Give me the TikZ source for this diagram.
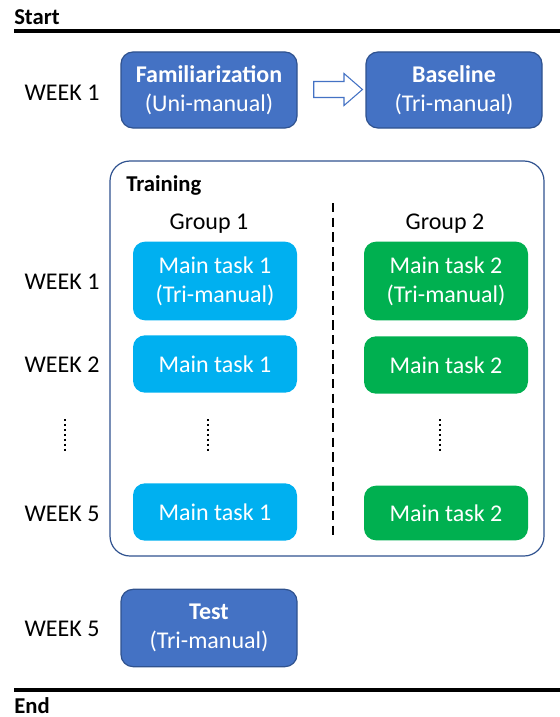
\documentclass[tikz,border=0pt]{standalone}
\usepackage{fontspec}
\setmainfont{Carlito}
\usetikzlibrary{shapes.arrows}
\definecolor{tblue}{HTML}{4472C4}
\definecolor{tborder}{HTML}{2F528F}
\definecolor{tcyan}{HTML}{00B0F0}
\definecolor{tgreen}{HTML}{00B050}
\begin{document}
\begin{tikzpicture}[x=0.75pt,y=-0.75pt,
  every node/.style={font=\fontsize{18}{21.5}\selectfont, inner sep=0pt},
  bluebox/.style={draw=tborder, line width=0.9pt, fill=tblue, text=white, rounded corners=9pt, minimum width=132pt, minimum height=57pt, align=center},
  cyanbox/.style={fill=tcyan, text=white, rounded corners=9pt, minimum width=123pt, align=center},
  greenbox/.style={fill=tgreen, text=white, rounded corners=9pt, minimum width=123pt, align=center},
  week/.style={anchor=center},
  vdots/.style={line width=1.6pt, dash pattern=on 1.5pt off 2.2pt},
  rule/.style={line width=2.3pt}
]
\useasboundingbox (0,0) rectangle (560,717);
% Start
\node[anchor=base west, font=\fontsize{17}{20}\selectfont\bfseries] (start) at (14,25) {Start};
\coordinate (sl) at (14,31);
\coordinate (sr) at (560,31);
\draw[rule] (sl) -- (sr);
% Week 1 top
\node[week] (w1a) at (62,93) {WEEK 1};
\node[bluebox] (fam) at (209,90) {\textbf{Familiarization}\\(Uni-manual)};
\node[bluebox] (base) at (454,90) {\textbf{Baseline}\\(Tri-manual)};
\node[single arrow, draw=tblue, fill=white, line width=0.8pt, minimum height=36.5pt, minimum width=0pt, inner xsep=0pt, inner ysep=5.6pt, single arrow head extend=6pt, single arrow tip angle=82] (arr) at (333.5,89.5) {};
% Training frame
\draw[tborder, line width=0.9pt, rounded corners=15pt] (110,161) rectangle (544,556);
\node[anchor=west, font=\fontsize{17}{20}\selectfont\bfseries] (train) at (126,185) {Training};
\coordinate (dtop) at (333,203);
\coordinate (dbot) at (333,540);
\draw[line width=0.9pt, dash pattern=on 7pt off 4pt] (dtop) -- (dbot);
\node (g1) at (209,224) {Group 1};
\node (g2) at (445,224) {Group 2};
% rows
\node[week] (w1) at (62,282) {WEEK 1};
\node[cyanbox, minimum height=59pt] (m11) at (215,281) {Main task 1\\(Tri-manual)};
\node[greenbox, minimum height=59pt] (m21) at (446,281) {Main task 2\\(Tri-manual)};
\node[week] (w2) at (62,365) {WEEK 2};
\node[cyanbox, minimum height=43pt] (m12) at (215,364) {Main task 1};
\node[greenbox, minimum height=43pt] (m22) at (446,365) {Main task 2};
\coordinate (d1t) at (65,419);
\coordinate (d1b) at (65,452);
\coordinate (d2t) at (208,419);
\coordinate (d2b) at (208,452);
\coordinate (d3t) at (440,419);
\coordinate (d3b) at (440,452);
\draw[vdots] (d1t) -- (d1b);
\draw[vdots] (d2t) -- (d2b);
\draw[vdots] (d3t) -- (d3b);
\node[week] (w5) at (62,514) {WEEK 5};
\node[cyanbox, minimum height=43pt] (m15) at (215,512) {Main task 1};
\node[greenbox, minimum height=41pt] (m25) at (446,513) {Main task 2};
% Test
\node[week] (w5b) at (62,629) {WEEK 5};
\node[bluebox, minimum height=58pt] (test) at (209,628) {\textbf{Test}\\(Tri-manual)};
% End
\coordinate (el) at (14,690);
\coordinate (er) at (560,690);
\draw[rule] (el) -- (er);
\node[anchor=base west, font=\fontsize{17}{20}\selectfont\bfseries] (endn) at (14,713) {End};
\end{tikzpicture}
\end{document}
